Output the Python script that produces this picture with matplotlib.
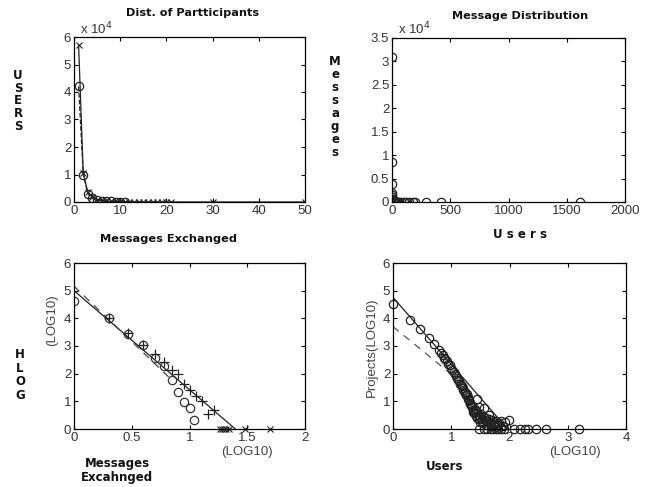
import matplotlib
matplotlib.use("Agg")
import matplotlib.pyplot as plt
from matplotlib.ticker import FuncFormatter

# Data
# Top left: distribution of participants
part_o_x = [1, 2, 3, 4, 5, 6, 7, 8, 9, 10, 11]
part_o_y = [42000, 10000, 3000, 1500, 700, 400, 300, 200, 150, 100, 100]
part_x_x = [1, 2, 3, 4, 5, 6, 7, 8, 9, 10, 11, 12, 13, 14, 15, 16, 17, 18, 19, 20, 21, 30, 50]
part_x_y = [57000, 10500, 3500, 1800, 900, 500, 300, 200, 150, 100, 80, 60, 50, 40, 30, 20, 20, 10, 10, 10, 10, 5, 5]

# Top right: message distribution
msg_x = [1, 1, 1, 2, 3, 4, 5, 6, 8, 10, 12, 15, 20, 25, 30, 40, 50, 60, 80, 100,
         120, 150, 180, 200, 290, 420, 1610]
msg_y = [31000, 8500, 3800, 2000, 1500, 1000, 700, 500, 400, 300, 250, 200, 150, 120,
         100, 80, 60, 50, 40, 30, 20, 15, 10, 8, 5, 3, 1]

# Bottom left: messages exchanged (log10)
ex_o_x = [0, 0.30, 0.47, 0.60, 0.70, 0.78, 0.85, 0.90, 0.95, 1.00, 1.04]
ex_o_y = [4.61, 4.0, 3.45, 3.05, 2.57, 2.26, 1.78, 1.33, 0.99, 0.75, 0.32]
ex_p_x = [0.30, 0.47, 0.60, 0.70, 0.78, 0.85, 0.90, 0.95, 1.00, 1.06, 1.11, 1.16, 1.21]
ex_p_y = [4.0, 3.48, 3.05, 2.72, 2.43, 2.12, 1.97, 1.63, 1.42, 1.20, 1.01, 0.55, 0.70]
ex_x_x = [1.26, 1.28, 1.30, 1.32, 1.34, 1.48, 1.70]
ex_x_y = [0, 0, 0, 0, 0, 0, 0]
ex_fit_solid = (5.0, -3.58, 1.40)   # intercept, slope, x end
ex_fit_dash = (5.16, -4.0, 0.82)

# Bottom right: users (log10)
us_x = [0, 0.29, 0.47, 0.61, 0.70, 0.79, 0.85, 0.90, 0.95, 1.00, 1.04, 1.08, 1.11,
        1.15, 1.18, 1.20, 1.23, 1.26, 1.28, 1.30, 1.32, 1.34, 1.36, 1.38, 1.40, 1.41,
        1.43, 1.45, 1.46, 1.48, 1.49, 1.51, 1.52, 1.53, 1.56, 1.58, 1.60, 1.62, 1.64,
        1.66, 1.68, 1.70, 1.72, 1.74, 1.76, 1.78, 1.80, 1.85, 1.88, 1.93, 1.99,
        0.83, 0.88, 0.93, 0.98, 1.02, 1.06, 1.10, 1.13, 1.17, 1.21, 1.24, 1.27,
        1.29, 1.31, 1.33, 1.35, 1.37, 1.39, 1.42, 1.44, 1.47, 1.50, 1.55, 1.57,
        1.61, 1.65, 1.69, 1.73, 1.77, 1.82,
        1.48, 1.56, 1.62, 1.68, 1.72, 1.76, 1.80, 1.85, 1.90, 2.08, 2.18, 2.26, 2.32,
        2.45, 2.62, 3.20]
us_y = [4.53, 3.95, 3.61, 3.28, 3.07, 2.86, 2.68, 2.52, 2.36, 2.22, 2.06, 1.92, 1.78,
        1.64, 1.55, 1.42, 1.30, 1.22, 1.10, 1.04, 0.95, 0.86, 0.78, 0.63, 0.72, 0.60,
        0.66, 1.10, 0.50, 0.80, 0.42, 0.55, 0.36, 0.30, 0.75, 0.32, 0.40, 0.26, 0.50,
        0.22, 0.24, 0.32, 0.18, 0.16, 0.30, 0.14, 0.16, 0.29, 0.12, 0.26, 0.33,
        2.75, 2.58, 2.45, 2.30, 2.12, 1.98, 1.85, 1.72, 1.60, 1.48, 1.35, 1.25,
        1.15, 1.00, 0.90, 0.82, 0.70, 0.58, 0.48, 0.40, 0.35, 0.25, 0.20, 0.45,
        0.15, 0.35, 0.10, 0.25, 0.08, 0.20,
        0, 0, 0, 0, 0, 0, 0, 0, 0, 0, 0, 0, 0, 0, 0, 0]
us_fit_solid = (4.76, -2.42, 1.95)
us_fit_dash = (3.70, -1.72, 1.02)

W, H = 649, 487
fig = plt.figure(figsize=(W / 100, H / 100), dpi=100)
fig.patch.set_facecolor("white")

tick_color = "#333333"


def px_axes(left, right, top, bottom):
    ax = fig.add_axes([left / W, 1 - bottom / H, (right - left) / W, (bottom - top) / H])
    ax.tick_params(direction="in", top=True, right=True, length=3, width=0.8,
                   labelsize=9.5, colors="black", labelcolor=tick_color, pad=2)
    for s in ax.spines.values():
        s.set_linewidth(0.9)
        s.set_color("black")
    return ax


def ftext(x, y, s, **kw):
    fig.text(x / W, 1 - y / H, s, ha="center", va="center", **kw)


fmt_g = FuncFormatter(lambda v, p: "%g" % v)
fmt_e4 = FuncFormatter(lambda v, p: "%g" % (v / 1e4))

# Top left
ax1 = px_axes(74, 305, 37, 202)
ax1.plot(part_x_x, part_x_y, "-x", color="#222222", lw=0.9, ms=4, mew=0.8)
ax1.plot(part_o_x, part_o_y, "--o", color="#222222", lw=0.9, ms=6, mfc="none", mew=0.9)
ax1.set_xlim(0, 50)
ax1.set_ylim(0, 60000)
ax1.set_xticks([0, 10, 20, 30, 40, 50])
ax1.set_yticks([0, 10000, 20000, 30000, 40000, 50000, 60000])
ax1.yaxis.set_major_formatter(fmt_e4)
ax1.xaxis.set_major_formatter(fmt_g)

# Top right
ax2 = px_axes(392, 625, 38, 202)
ax2.plot(msg_x, msg_y, "o", color="#222222", ms=6, mfc="none", mew=0.9)
ax2.set_xlim(0, 2000)
ax2.set_ylim(0, 35000)
ax2.set_xticks([0, 500, 1000, 1500, 2000])
ax2.set_yticks([0, 5000, 10000, 15000, 20000, 25000, 30000, 35000])
ax2.yaxis.set_major_formatter(fmt_e4)
ax2.xaxis.set_major_formatter(fmt_g)

# Bottom left
ax3 = px_axes(74, 305, 263, 429)
a, b, xe = ex_fit_solid
ax3.plot([0, xe], [a, a + b * xe], "-", color="#222222", lw=0.9)
a, b, xe = ex_fit_dash
ax3.plot([0, xe], [a, a + b * xe], "--", color="#444444", lw=0.9, dashes=(6, 5))
ax3.plot(ex_o_x, ex_o_y, "o", color="#333333", ms=6, mfc="none", mew=0.9)
ax3.plot(ex_p_x, ex_p_y, "+", color="#222222", ms=7, mew=0.9)
ax3.plot(ex_x_x, ex_x_y, "x", color="#222222", ms=4, mew=0.8, clip_on=False)
ax3.set_xlim(0, 2)
ax3.set_ylim(0, 6)
ax3.set_xticks([0, 0.5, 1, 1.5, 2])
ax3.set_yticks([0, 1, 2, 3, 4, 5, 6])
ax3.xaxis.set_major_formatter(fmt_g)

# Bottom right
ax4 = px_axes(393, 626, 263, 429)
a, b, xe = us_fit_solid
ax4.plot([0, xe], [a, a + b * xe], "-", color="#222222", lw=0.9)
a, b, xe = us_fit_dash
ax4.plot([0, xe], [a, a + b * xe], "--", color="#555555", lw=0.9, dashes=(6, 5))
ax4.plot(us_x, us_y, "o", color="#222222", ms=6, mfc="none", mew=0.9, clip_on=False)
ax4.set_xlim(0, 4)
ax4.set_ylim(0, 6)
ax4.set_xticks([0, 1, 2, 3, 4])
ax4.set_yticks([0, 1, 2, 3, 4, 5, 6])

for ax in (ax1, ax2, ax3, ax4):
    for lab in ax.get_xticklabels() + ax.get_yticklabels():
        lab.set_family("Liberation Sans")

# Offset labels
ftext(96, 29, r"x 10$^4$", color=tick_color, fontsize=9.5, family="Liberation Sans")
ftext(414, 29, r"x 10$^4$", color=tick_color, fontsize=9.5, family="Liberation Sans")

bold = dict(fontweight="bold", family="DejaVu Sans", color="#111111")
ftext(193, 13, "Dist. of Partticipants", fontsize=8.1, **bold)
ftext(520, 16, "Message Distribution", fontsize=8.1, **bold)
ftext(168, 239, "Messages Exchanged", fontsize=8.2, **bold)
ftext(520, 235, "U s e r s", fontsize=8.5, **bold)
ftext(18, 101, "U\nS\nE\nR\nS", fontsize=8.5, linespacing=0.98, **bold)
ftext(335, 107, "M\ne\ns\ns\na\ng\ne\ns", fontsize=8.5, linespacing=1.0, **bold)
ftext(20, 375, "H\nL\nO\nG", fontsize=8.5, linespacing=1.05, **bold)
ftext(117, 470, "Messages\nExcahnged", fontsize=8.5, linespacing=1.1, **bold)
ftext(445, 466, "Users", fontsize=8.5, **bold)

gray = dict(color="#444444", family="Liberation Sans", fontsize=9.5)
ftext(52, 320, "(LOG10)", rotation=90, **gray)
ftext(372, 347, "Projects(LOG10)", rotation=90, **gray)
ftext(247, 452, "(LOG10)", **gray)
ftext(575, 452, "(LOG10)", **gray)

fig.savefig("out.png", dpi=100, facecolor="white")
